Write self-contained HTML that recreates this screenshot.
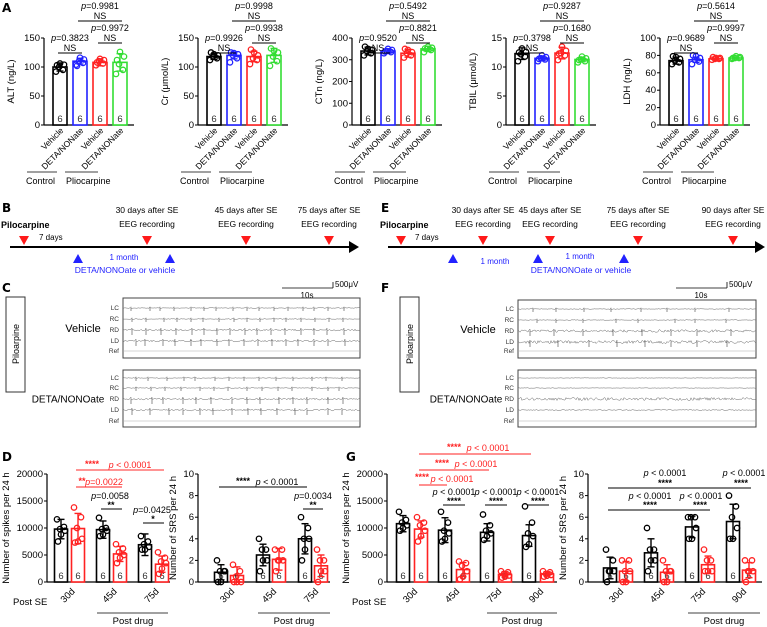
<!DOCTYPE html>
<html><head><meta charset="utf-8"><style>
html,body{margin:0;padding:0;background:#fff;}
svg{display:block;font-family:"Liberation Sans",Arial,sans-serif;}
</style></head><body>
<svg id="s" width="767" height="627" viewBox="0 0 767 627" xmlns="http://www.w3.org/2000/svg">
<rect width="767" height="627" fill="#fff"/>
<g font-weight="bold" font-size="12" font-family="DejaVu Sans, sans-serif">
<text x="2" y="12">A</text>
<text x="2" y="212">B</text>
<text x="381" y="212">E</text>
<text x="2" y="292">C</text>
<text x="381" y="292">F</text>
<text x="2" y="461">D</text>
<text x="346" y="461">G</text>
</g>
</svg>
<script>
// ---------- Panel A data ----------
const aTitles=['ALT (ng/L)','Cr (μmol/L)','CTn (ng/L)','TBIL (μmol/L)','LDH (ng/L)'];
const aMax=[150,150,400,15,100];
const aTicks=[[0,50,100,150],[0,50,100,150],[0,100,200,300,400],[0,5,10,15],[0,20,40,60,80,100]];
const aCats=['Vehicle','DETA/NONate','Vehicle','DETA/NONate'];
const aMeans=[[100,110,108,108],[118,120,118,120],[340,340,330,350],[12.3,11.5,12.4,11.3],[74,75,76,77]];
const aSD=[[7,5,6,15],[5,6,9,12],[18,10,18,12],[1.0,0.4,1.0,0.4],[4,3,1,1]];
const aPts=[
 [[92,95,100,104,106,103],[104,107,110,113,116,102],[103,106,110,112,114,108],[88,95,105,118,126,112]],
 [[112,115,118,120,122,125],[108,115,120,122,124,125],[105,112,115,120,125,130],[102,110,118,125,128,132]],
 [[320,330,340,345,350,360],[330,335,340,345,350,338],[310,320,330,335,345,350],[335,345,350,355,360,352]],
 [[11,11.8,12.2,12.6,13.2,12.5],[11,11.3,11.5,11.7,12,11.4],[11.2,12,12.4,12.8,13.5,12.3],[10.8,11,11.3,11.5,11.8,11.2]],
 [[70,72,74,76,78,79],[70,73,75,77,79,80],[75,76,76,77,77,78],[76,77,77,78,79,77]]
];
const aP12=['0.3823','0.9926','0.9520','0.3798','0.9689'];
const aP34=['0.9972','0.9938','0.8821','0.1680','0.9997'];
const aP24=['0.9981','0.9998','0.5492','0.9287','0.5614'];
const aColors=['#000','#2222ff','#ff2222','#33dd33'];

// ---------- Panel D data ----------
const dGroups=['30d','45d','75d'];
const dSpikeMeans=[9800,9900,9700,5200,6900,3300];
const dSpikeSD=[1800,2800,1600,1400,2000,1500];
const dSpikePts=[[11600,10200,9800,9500,8800,7500],[13800,12000,10000,8000,7500,7300],[11900,10000,9800,9500,8800,8500],[7000,6200,5500,5000,4500,3500],[8500,7500,7000,6500,6000,6000],[5500,4500,3800,3500,2500,1500]];
const dSrsMeans=[0.9,0.6,2.5,2.1,4.0,1.5];
const dSrsSD=[0.7,0.8,1.0,1.0,1.4,1.0];
const dSrsPts=[[2,1,1,1,0,0],[1.6,1,0.5,0,0,0],[4,3,3,2,2,1],[3,3,2,2,2,1],[6,5,4,4,3,2],[3,2,2,1,1,0]];
const spikeTicks=[0,5000,10000,15000,20000];
const srsTicks=[0,2,4,6,8,10];

// ---------- Panel G data ----------
const gGroups=['30d','45d','75d','90d'];
const gSpikeMeans=[10800,9800,9600,2300,9200,1400,8600,1500];
const gSpikeSD=[1500,1500,2300,1300,1600,500,2000,400];
const gSpikePts=[[13000,11500,11000,10500,10000,9500],[12000,11000,10500,9500,8500,7500],[13000,11000,9500,9000,8000,7500],[3800,3500,3000,2000,1000,500],[12500,10500,9500,9000,8500,7800],[2000,1800,1500,1200,1000,800],[14000,11000,9000,8500,7000,6500],[2000,1800,1500,1300,1200,1000]];
const gSrsMeans=[1.3,1.0,2.7,0.9,5.1,1.6,5.6,1.1];
const gSrsSD=[1.0,0.9,1.3,0.7,1.0,0.8,1.6,0.7];
const gSrsPts=[[3,2,1,1,1,0],[2,2,1,1,0,0],[5,3,3,2,2,1],[2,1,1,1,0,0],[6,6,6,5,4,4],[3,2,2,1,1,1],[8,7,6,5,4,4],[2,2,1,1,1,0]];

const NS='http://www.w3.org/2000/svg';
const svg=document.getElementById('s');
function mk(tag,attrs,txt,parent){const e=document.createElementNS(NS,tag);for(const k in attrs)e.setAttribute(k,attrs[k]);if(txt!=null)e.textContent=txt;(parent||svg).appendChild(e);return e;}
function txt(x,y,s,size,anchor,fill,parent,extra){const a={x:x,y:y,'font-size':size,'text-anchor':anchor||'middle',fill:fill||'#000'};if(extra)for(const k in extra)a[k]=extra[k];return mk('text',a,s,parent);}
function line(x1,y1,x2,y2,c,w,parent){return mk('line',{x1:x1,y1:y1,x2:x2,y2:y2,stroke:c||'#000','stroke-width':w||1},null,parent);}
const jit=[-4,3,-1,4,0,-3];

function barChart(o){
  const g=mk('g',{});
  
  
  const ys=v=>o.y0-(v/o.max)*(o.y0-o.ytop);
  const xs=i=>o.x0+o.pad+Math.floor(i/o.per)*o.gstep+(i%o.per)*o.bstep;
  const ya=line(o.x0,o.ytop,o.x0,o.y0,'#000',1.2,g);
  
  
  const xa=line(o.x0,o.y0,o.xend,o.y0,'#000',1.2,g);
  
  
  o.ticks.forEach(t=>{
    line(o.x0-3,ys(t),o.x0,ys(t),'#000',1,g);
    const tl=txt(o.x0-4,ys(t)+3,String(t),o.fs,'end','#000',g);
    
    
  });
  const yt=txt(0,0,o.title,o.fs,'middle','#000',g,{transform:`translate(${o.x0-o.tOff},${(o.y0+o.ytop)/2}) rotate(-90)`});
  
  
  o.means.forEach((m,i)=>{
    const c=o.colors[i%o.colors.length];const cx=xs(i);const bw=o.bw;
    const r=mk('rect',{x:cx-bw/2,y:ys(m),width:bw,height:o.y0-ys(m),fill:'#fff',stroke:c,'stroke-width':1.6},null,g);
    
    
    const n=txt(cx,o.y0-3,'6',o.fs,'middle','#333',g);
    
    
    const sd=o.sds[i];
    line(cx,ys(m+sd),cx,ys(Math.max(0,m-sd)),c,1.4,g);
    line(cx-3.5,ys(m+sd),cx+3.5,ys(m+sd),c,1.4,g);
    line(cx-3.5,ys(Math.max(0,m-sd)),cx+3.5,ys(Math.max(0,m-sd)),c,1.4,g);
    o.pts[i].forEach((p,k)=>{
      const d=mk('circle',{cx:cx+jit[k],cy:ys(p),r:2.7,fill:'none',stroke:c,'stroke-width':1.3},null,g);
      
      
    });
  });
  return {g,xs,ys};
}

// ---------- Panel A ----------
for(let k=0;k<5;k++){
  const x0=44+154*k;
  const c=barChart({name:'chart-a-'+aTitles[k].split(' ')[0].toLowerCase(),x0:x0,y0:125,ytop:38,xend:x0+90,max:aMax[k],ticks:aTicks[k],title:aTitles[k],tOff:30,means:aMeans[k],sds:aSD[k],pts:aPts[k],colors:aColors,pad:16,per:4,gstep:0,bstep:20,bw:14,fs:9.5});
  aCats.forEach((s,i)=>{
    const cx=c.xs(i);
    const t=txt(0,0,s,8.5,'end','#000',c.g,{transform:`translate(${cx+4},${131}) rotate(-45)`});
    
    
  });
  function br(a,b,yl,p){
    line(c.xs(a)-2,yl,c.xs(b)+2,yl,'#000',1,c.g);
    const mx=(c.xs(a)+c.xs(b))/2;
    txt(mx,yl-2,'NS',9,'middle','#000',c.g);
    const pt=txt(mx,yl-12,'',9,'middle','#000',c.g);
    mk('tspan',{'font-style':'italic'},'p',pt);mk('tspan',{},'='+p,pt);
    
    
  }
  br(0,1,53,aP12[k]);br(2,3,43,aP34[k]);br(1,3,21,aP24[k]);
  line(x0-17,172,x0+13,172,'#000',0.8,c.g);
  line(x0+21,172,x0+54,172,'#000',0.8,c.g);
  const gl1=txt(x0-18,184,'Control',9,'start','#000',c.g);
  
  
  const gl2=txt(x0+22,184,'Pliocarpine',9,'start','#000',c.g);
  
  
}

// ---------- Timelines B & E ----------
function tri(x,y,down,c,name){
  const p=down?`${x-5},${y} ${x+5},${y} ${x},${y+9}`:`${x-5},${y+9} ${x+5},${y+9} ${x},${y}`;
  const t=mk('polygon',{points:p,fill:c});
  
  
}
function timeline(x1,x2,red,blue,labels,months,deta,sevenX){
  const ax=line(x1,247,x2-8,247,'#000',2);
  
  
  mk('polygon',{points:`${x2-10},241 ${x2},247 ${x2-10},253`,fill:'#000'});
  red.forEach((x,i)=>{tri(x,236,true,'#ff1a1a','sampling-marker');
    if(i>0){txt(x,213,labels[i-1],8.5,'middle');txt(x,227,'EEG recording',8.5,'middle');}});
  blue.forEach(x=>tri(x,254,false,'#2222ff','treatment-marker'));
  months.forEach(m=>txt(m[0],m[1],'1 month',8,'middle','#2222ff'));
  txt(deta,273,'DETA/NONOate or vehicle',8.5,'middle','#2222ff');
  txt(sevenX,240,'7 days',8,'start');
}
const tb=txt(1,228,'Pilocarpine',9,'start','#000',null,{'font-weight':'bold'});


timeline(10,359,[24,147,246,329],[78,170],['30 days after SE','45 days after SE','75 days after SE'],[[124,260]],125,39);
const te=txt(380,228,'Pilocarpine',9,'start','#000',null,{'font-weight':'bold'});


timeline(388,765,[401,483,550,638,733],[453,538,624],['30 days after SE','45 days after SE','75 days after SE','90 days after SE'],[[495,264],[580,259]],581,415);

// ---------- EEG panels C & F ----------
let seed=7;function rnd(){seed=(seed*16807)%2147483647;return seed/2147483647;}
function trace(x1,x2,y,amp,nSp,spAmp,parent){
  let d='M'+x1+','+y;
  const sp=[];for(let i=0;i<nSp;i++)sp.push(Math.round(x1+8+(x2-x1-14)*(i+rnd()*0.4)/nSp));
  for(let x=x1+1;x<=x2;x++){
    let v=(rnd()-0.5)*amp;
    if(sp.includes(x)){d+=` L${x},${y-spAmp*0.4} L${x},${y+spAmp}`;}
    d+=` L${x},${(y+v).toFixed(1)}`;
  }
  mk('path',{d:d,fill:'none',stroke:'#666','stroke-width':0.5},null,parent);
}
function eegBox(bx1,bx2,by1,by2,rows,lab,labX,noise,nSp,name){
  const g=mk('g',{});
  
  
  mk('rect',{x:bx1,y:by1,width:bx2-bx1,height:by2-by1,fill:'#fff',stroke:'#444','stroke-width':1},null,g);
  const names=['LC','RC','RD','LD','Ref'];
  rows.forEach((ry,i)=>{
    txt(bx1-4,ry+2,names[i],6.5,'end','#333',g);
    if(i===4)line(bx1,ry,bx2,ry,'#aaa',0.6,g);
    else trace(bx1,bx2,ry,noise[i],nSp[i],i<2?3:5,g);
  });
  txt(labX,(by1+by2)/2+4,lab,lab==='Vehicle'?11:10,'middle','#000',g);
}
function eegPanel(ox){
  line(ox+282,288,ox+333,288,'#000',0.8);line(ox+333,282,ox+333,288,'#000',0.8);
  txt(ox+335,287,'500μV',8,'start');txt(ox+307,298,'10s',8,'middle');
  const pb=mk('rect',{x:ox+6,y:297,width:19,height:95,fill:'#fff',stroke:'#333','stroke-width':1});
  
  
  txt(0,0,'Piloarpine',9,'middle','#000',null,{transform:`translate(${ox+19},${344}) rotate(-90)`});
}
eegPanel(0);
eegBox(123,360,298,358,[308,319,330,341,351],'Vehicle',83,[0.6,0.6,1.8,1.8],[16,16,16,16],'eeg-vehicle-c');
eegBox(123,360,370,427,[378,388,399,410,421],'DETA/NONOate',68,[0.6,0.6,1.8,1.8],[14,14,14,14],'eeg-deta-c');
eegPanel(394);
eegBox(518,756,300,358,[309,320,331,342,351],'Vehicle',478,[0.6,0.6,2.5,3],[8,8,8,8],'eeg-vehicle-f');
eegBox(518,756,370,427,[378,388,399,410,421],'DETA/NONOate',466,[0.4,0.4,3,1],[0,0,0,0],'eeg-deta-f');

// ---------- Panel D ----------
function pLabel(c,x,y,s,col){const t=txt(x,y,'',9,'middle',col,c.g);mk('tspan',{'font-style':'italic'},'p',t);mk('tspan',{},s,t);
  
  
  return t;}
function stars(c,x,y,s,col){return txt(x,y,s,9,'middle',col,c.g,{'font-weight':'bold'});}
function xLabels(c,groups,per,y0){
  groups.forEach((s,i)=>{const cx=(c.xs(i*per)+c.xs(i*per+per-1))/2;
    const t=txt(0,0,s,9.5,'end','#000',c.g,{transform:`translate(${cx+6},${y0+10}) rotate(-45)`});
    
    });
}
const RED='#ff2222';
const d1=barChart({name:'chart-d-spikes',x0:47,y0:582,ytop:474,xend:170,max:20000,ticks:spikeTicks,title:'Number of spikes per 24 h',tOff:38,means:dSpikeMeans,sds:dSpikeSD,pts:dSpikePts,colors:['#000',RED],pad:14,per:2,gstep:42,bstep:17,bw:13,fs:9.5});
xLabels(d1,dGroups,2,582);
line(d1.xs(1)-2,470,d1.xs(5)+2,470,'#ff5555',1.2,d1.g);
stars(d1,92,467,'****',RED);pLabel(d1,130,468,' < 0.0001',RED);
line(d1.xs(1)-2,487,d1.xs(3)+2,487,RED,1.1,d1.g);
stars(d1,82,484,'**',RED);pLabel(d1,104,485,'=0.0022',RED);
line(d1.xs(2)-2,509,d1.xs(3)+2,509,'#000',1.1,d1.g);stars(d1,111,508,'**','#000');pLabel(d1,110,499,'=0.0058','#000');
line(d1.xs(4)-2,523,d1.xs(5)+2,523,'#000',1.1,d1.g);stars(d1,153,522,'*','#000');pLabel(d1,152,513,'=0.0425','#000');
txt(13,605,'Post SE',9.5,'start','#000',d1.g);
line(97,613,168,613,'#000',0.8,d1.g);txt(133,624,'Post drug',9.5,'middle','#000',d1.g);

const d2=barChart({name:'chart-d-srs',x0:198,y0:582,ytop:474,xend:330,max:10,ticks:srsTicks,title:'Number of SRS per 24 h',tOff:22,means:dSrsMeans,sds:dSrsSD,pts:dSrsPts,colors:['#000',RED],pad:23,per:2,gstep:42,bstep:16,bw:13,fs:9.5});
xLabels(d2,dGroups,2,582);
line(d2.xs(0)-2,487,d2.xs(4)+2,487,'#000',1.1,d2.g);stars(d2,243,484,'****','#000');pLabel(d2,277,485,' < 0.0001','#000');
line(d2.xs(4)-2,509,d2.xs(5)+2,509,'#000',1.1,d2.g);stars(d2,313,508,'**','#000');pLabel(d2,313,499,'=0.0034','#000');
line(258,613,330,613,'#000',0.8,d2.g);txt(294,624,'Post drug',9.5,'middle','#000',d2.g);

// ---------- Panel G ----------
const g1=barChart({name:'chart-g-spikes',x0:387,y0:582,ytop:474,xend:557,max:20000,ticks:spikeTicks,title:'Number of spikes per 24 h',tOff:38,means:gSpikeMeans,sds:gSpikeSD,pts:gSpikePts,colors:['#000',RED],pad:16,per:2,gstep:42,bstep:18,bw:13,fs:9.5});
xLabels(g1,gGroups,2,582);
line(g1.xs(1)-2,454,g1.xs(6)+2,454,RED,1.1,g1.g);stars(g1,454,450,'****',RED);pLabel(g1,488,451,' < 0.0001',RED);
line(g1.xs(1)-2,470,g1.xs(4)+2,470,RED,1.1,g1.g);stars(g1,442,466,'****',RED);pLabel(g1,476,467,' < 0.0001',RED);
line(g1.xs(1)-2,485,g1.xs(2)+2,485,RED,1.1,g1.g);stars(g1,422,480,'****',RED);pLabel(g1,452,482,' < 0.0001',RED);
[[2,3],[4,5],[6,7]].forEach(pr=>{const mx=(g1.xs(pr[0])+g1.xs(pr[1]))/2;
  line(g1.xs(pr[0])-2,505,g1.xs(pr[1])+2,505,'#000',1.1,g1.g);stars(g1,mx,504,'****','#000');pLabel(g1,mx,495,' < 0.0001','#000');});
txt(352,605,'Post SE',9.5,'start','#000',g1.g);
line(487,613,557,613,'#000',0.8,g1.g);txt(522,624,'Post drug',9.5,'middle','#000',g1.g);

const g2=barChart({name:'chart-g-srs',x0:588,y0:582,ytop:474,xend:762,max:10,ticks:srsTicks,title:'Number of SRS per 24 h',tOff:22,means:gSrsMeans,sds:gSrsSD,pts:gSrsPts,colors:['#000',RED],pad:22,per:2,gstep:41,bstep:16,bw:13,fs:9.5});
xLabels(g2,gGroups,2,582);
line(g2.xs(0)-2,488,g2.xs(6)+2,488,'#000',1.1,g2.g);stars(g2,665,486,'****','#000');pLabel(g2,665,476,' < 0.0001','#000');
line(g2.xs(0)-2,510,g2.xs(4)+2,510,'#000',1.1,g2.g);stars(g2,650,508,'****','#000');pLabel(g2,650,499,' < 0.0001','#000');
line(g2.xs(4)-2,510,g2.xs(5)+2,510,'#000',1.1,g2.g);stars(g2,700,508,'****','#000');pLabel(g2,701,499,' < 0.0001','#000');
line(g2.xs(6)-2,488,g2.xs(7)+2,488,'#000',1.1,g2.g);stars(g2,741,486,'****','#000');pLabel(g2,744,476,' < 0.0001','#000');
line(688,613,760,613,'#000',0.8,g2.g);txt(724,624,'Post drug',9.5,'middle','#000',g2.g);
</script>
</body></html>
